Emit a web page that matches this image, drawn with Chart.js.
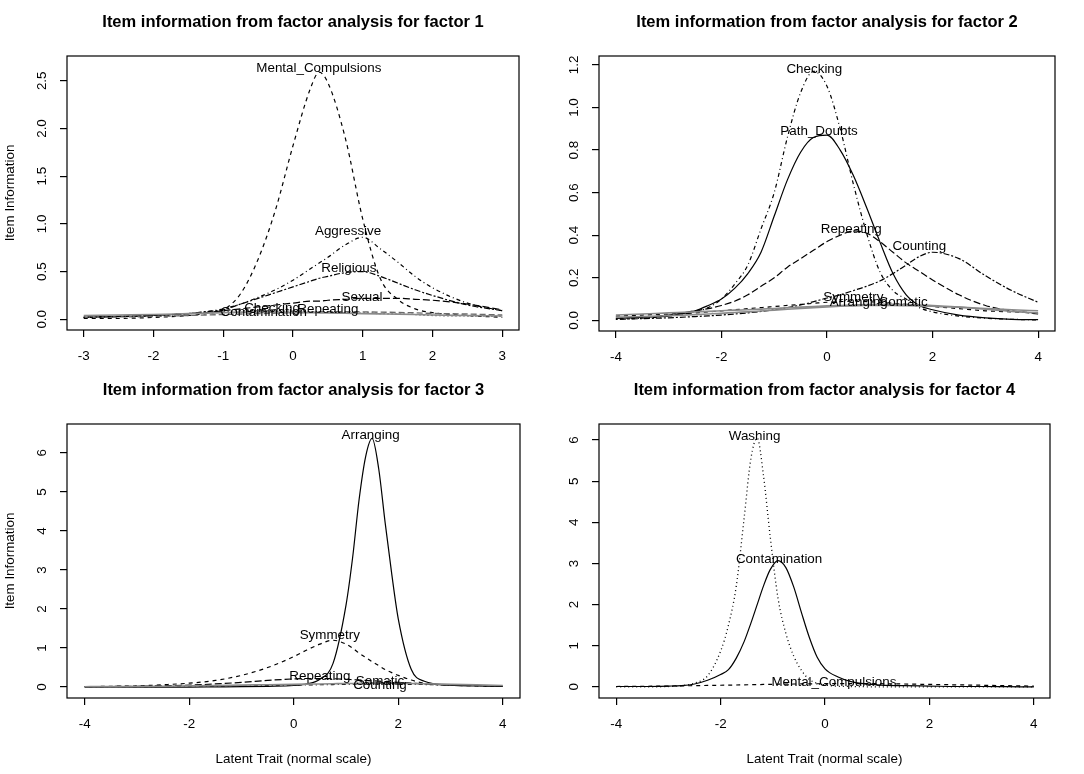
<!DOCTYPE html>
<html>
<head>
<meta charset="utf-8">
<script src="https://cdn.jsdelivr.net/npm/chart.js@4.4.1/dist/chart.umd.min.js"></script>
<style>
    body { margin: 0; background: #fff; width: 1084px; height: 774px; position: relative; overflow: hidden; }
    .panel { position: absolute; }
</style>
</head>
<body>
<div class="panel" style="left:0;top:0"><canvas id="f1" width="542" height="368"></canvas></div>
<div class="panel" style="left:542px;top:0"><canvas id="f2" width="542" height="368"></canvas></div>
<div class="panel" style="left:0;top:368px"><canvas id="f3" width="542" height="406"></canvas></div>
<div class="panel" style="left:542px;top:368px"><canvas id="f4" width="542" height="406"></canvas></div>
<script>
// ---- factor 1 ----
const theta1 = [-3, -2.5, -2, -1.5, -1.25, -1, -0.75, -0.5, -0.25, 0, 0.25, 0.375, 0.5, 0.75, 1, 1.25, 1.5, 1.75, 2, 2.5, 3];
const mental1 = [0.01, 0.01, 0.02, 0.04, 0.06, 0.10, 0.27, 0.63, 1.15, 1.82, 2.42, 2.59, 2.48, 1.9, 1.05, 0.43, 0.21, 0.11, 0.07, 0.04, 0.02];
const aggressive1 = [0.02, 0.03, 0.04, 0.06, 0.08, 0.11, 0.16, 0.23, 0.31, 0.41, 0.53, 0.59, 0.65, 0.78, 0.86, 0.74, 0.6, 0.45, 0.33, 0.17, 0.09];
const religious1 = [0.02, 0.03, 0.04, 0.06, 0.08, 0.10, 0.16, 0.22, 0.28, 0.34, 0.40, 0.43, 0.45, 0.49, 0.50, 0.45, 0.38, 0.31, 0.25, 0.15, 0.09];
const sexual1 = [0.02, 0.03, 0.04, 0.06, 0.07, 0.09, 0.11, 0.13, 0.15, 0.17, 0.19, 0.19, 0.20, 0.21, 0.22, 0.22, 0.22, 0.21, 0.2, 0.16, 0.1];
const contamination1 = [0.04, 0.045, 0.05, 0.06, 0.065, 0.07, 0.075, 0.075, 0.075, 0.07, 0.07, 0.068, 0.066, 0.063, 0.06, 0.057, 0.054, 0.05, 0.045, 0.04, 0.035];
const checking1 = [0.02, 0.03, 0.04, 0.06, 0.07, 0.08, 0.09, 0.09, 0.088, 0.085, 0.08, 0.078, 0.075, 0.07, 0.065, 0.06, 0.055, 0.05, 0.04, 0.035, 0.03];
const repeating1 = [0.02, 0.025, 0.03, 0.04, 0.045, 0.05, 0.055, 0.06, 0.065, 0.07, 0.075, 0.078, 0.08, 0.08, 0.078, 0.075, 0.072, 0.068, 0.062, 0.055, 0.045];
const labelNames1 = ['Mental_Compulsions', 'Aggressive', 'Religious', 'Sexual', 'Contamination', 'Checking', 'Repeating'];
const labelX1 = [0.37, 0.79, 0.8, 0.99, -0.42, -0.3, 0.5];
const labelY1 = [2.63, 0.92, 0.53, 0.23, 0.07, 0.12, 0.11];
const xTicks1 = [-3, -2, -1, 0, 1, 2, 3];
const yTicks1 = [0, 0.5, 1, 1.5, 2, 2.5];
const yTickText1 = ['0.0', '0.5', '1.0', '1.5', '2.0', '2.5'];

// ---- factor 2 ----
const theta2 = [-4, -3.5, -3, -2.5, -2.25, -2, -1.75, -1.5, -1.25, -1, -0.75, -0.5, -0.25, 0, 0.25, 0.5, 0.75, 1, 1.25, 1.5, 1.75, 2, 2.5, 3, 3.5, 4];
const checking2 = [0.005, 0.01, 0.02, 0.04, 0.06, 0.1, 0.17, 0.26, 0.43, 0.6, 0.86, 1.07, 1.17, 1.1, 0.9, 0.64, 0.41, 0.23, 0.14, 0.1, 0.06, 0.04, 0.02, 0.01, 0.005, 0.002];
const pathDoubts2 = [0.01, 0.015, 0.02, 0.045, 0.07, 0.1, 0.15, 0.22, 0.32, 0.49, 0.66, 0.79, 0.86, 0.87, 0.8, 0.68, 0.53, 0.37, 0.22, 0.12, 0.07, 0.05, 0.025, 0.012, 0.005, 0.003];
const repeating2 = [0.01, 0.015, 0.025, 0.045, 0.055, 0.07, 0.09, 0.12, 0.16, 0.2, 0.25, 0.29, 0.33, 0.37, 0.4, 0.42, 0.41, 0.37, 0.32, 0.27, 0.23, 0.19, 0.12, 0.07, 0.045, 0.03];
const counting2 = [0.005, 0.008, 0.012, 0.018, 0.021, 0.025, 0.03, 0.035, 0.042, 0.05, 0.06, 0.072, 0.088, 0.105, 0.12, 0.14, 0.16, 0.185, 0.22, 0.26, 0.3, 0.32, 0.29, 0.21, 0.14, 0.085];
const symmetry2 = [0.02, 0.025, 0.03, 0.035, 0.04, 0.045, 0.05, 0.055, 0.06, 0.065, 0.07, 0.075, 0.08, 0.085, 0.088, 0.09, 0.088, 0.085, 0.08, 0.075, 0.07, 0.065, 0.055, 0.045, 0.04, 0.035];
const arranging2 = [0.015, 0.018, 0.022, 0.027, 0.03, 0.033, 0.037, 0.04, 0.044, 0.048, 0.052, 0.056, 0.06, 0.063, 0.066, 0.068, 0.07, 0.07, 0.07, 0.069, 0.068, 0.066, 0.062, 0.056, 0.05, 0.045];
const somatic2 = [0.025, 0.03, 0.035, 0.04, 0.042, 0.045, 0.048, 0.05, 0.053, 0.056, 0.059, 0.062, 0.065, 0.068, 0.07, 0.072, 0.074, 0.075, 0.075, 0.074, 0.072, 0.07, 0.062, 0.052, 0.042, 0.035];
const labelNames2 = ['Checking', 'Path_Doubts', 'Repeating', 'Counting', 'Symmetry', 'Arranging', 'Somatic'];
const labelX2 = [-0.24, -0.15, 0.46, 1.75, 0.5, 0.6, 1.45];
const labelY2 = [1.18, 0.89, 0.43, 0.35, 0.11, 0.085, 0.085];
const xTicks2 = [-4, -2, 0, 2, 4];
const yTicks2 = [0, 0.2, 0.4, 0.6, 0.8, 1, 1.2];
const yTickText2 = ['0.0', '0.2', '0.4', '0.6', '0.8', '1.0', '1.2'];

// ---- factor 3 ----
const theta3 = [-4, -3.5, -3, -2.5, -2, -1.5, -1, -0.5, 0, 0.25, 0.5, 0.75, 1, 1.125, 1.25, 1.375, 1.5, 1.625, 1.75, 1.875, 2, 2.25, 2.5, 3, 3.5, 4];
const arranging3 = [0, 0, 0, 0, 0, 0.005, 0.01, 0.02, 0.04, 0.08, 0.2, 0.6, 2.1, 3.3, 4.8, 5.9, 6.37, 5.6, 4.2, 2.9, 1.75, 0.45, 0.15, 0.05, 0.03, 0.02];
const symmetry3 = [0.01, 0.02, 0.03, 0.06, 0.1, 0.17, 0.3, 0.5, 0.78, 0.95, 1.1, 1.2, 1.1, 1.0, 0.87, 0.76, 0.65, 0.55, 0.45, 0.37, 0.3, 0.18, 0.1, 0.05, 0.03, 0.02];
const repeating3 = [0.01, 0.015, 0.02, 0.035, 0.05, 0.08, 0.12, 0.17, 0.21, 0.22, 0.22, 0.215, 0.2, 0.19, 0.18, 0.17, 0.16, 0.15, 0.14, 0.13, 0.12, 0.1, 0.08, 0.055, 0.04, 0.025];
const counting3 = [0.005, 0.008, 0.01, 0.015, 0.02, 0.025, 0.03, 0.04, 0.05, 0.055, 0.06, 0.065, 0.07, 0.072, 0.075, 0.078, 0.08, 0.08, 0.08, 0.078, 0.076, 0.07, 0.065, 0.05, 0.04, 0.03];
const somatic3 = [0.01, 0.012, 0.015, 0.02, 0.03, 0.04, 0.05, 0.06, 0.07, 0.075, 0.08, 0.085, 0.09, 0.09, 0.095, 0.1, 0.1, 0.1, 0.1, 0.098, 0.095, 0.09, 0.085, 0.07, 0.055, 0.04];
const labelNames3 = ['Arranging', 'Symmetry', 'Repeating', 'Counting', 'Somatic'];
const labelX3 = [1.47, 0.69, 0.5, 1.65, 1.65];
const labelY3 = [6.45, 1.32, 0.28, 0.05, 0.14];
const xTicks3 = [-4, -2, 0, 2, 4];
const yTicks3 = [0, 1, 2, 3, 4, 5, 6];
const yTickText3 = ['0', '1', '2', '3', '4', '5', '6'];

// ---- factor 4 ----
const theta4 = [-4, -3.5, -3, -2.75, -2.5, -2.25, -2, -1.85, -1.7, -1.55, -1.42, -1.3, -1.18, -1.05, -0.9, -0.75, -0.6, -0.45, -0.3, -0.15, 0, 0.25, 0.5, 1, 1.5, 2, 2.5, 3, 3.5, 4];
const washing4 = [0, 0, 0.01, 0.03, 0.09, 0.27, 0.87, 1.5, 2.45, 4.1, 5.55, 6.05, 5.15, 3.65, 2.15, 1.3, 0.75, 0.4, 0.18, 0.09, 0.045, 0.015, 0.01, 0, 0, 0, 0, 0, 0, 0];
const contamination4 = [0.01, 0.01, 0.02, 0.03, 0.07, 0.16, 0.3, 0.42, 0.7, 1.1, 1.55, 2.0, 2.45, 2.85, 3.07, 2.9, 2.43, 1.8, 1.2, 0.72, 0.44, 0.24, 0.13, 0.05, 0.03, 0.02, 0.01, 0.01, 0.005, 0];
const mental4 = [0.01, 0.015, 0.02, 0.025, 0.03, 0.035, 0.04, 0.043, 0.046, 0.05, 0.053, 0.056, 0.059, 0.062, 0.065, 0.068, 0.07, 0.072, 0.074, 0.076, 0.078, 0.08, 0.08, 0.078, 0.07, 0.06, 0.05, 0.04, 0.03, 0.02];
const labelNames4 = ['Washing', 'Contamination', 'Mental_Compulsions'];
const labelX4 = [-1.35, -0.88, 0.17];
const labelY4 = [6.1, 3.11, 0.1];
const xTicks4 = [-4, -2, 0, 2, 4];
const yTicks4 = [0, 1, 2, 3, 4, 5, 6];
const yTickText4 = ['0', '1', '2', '3', '4', '5', '6'];

const TEXT_FONT = '"Liberation Sans", Arial, sans-serif';

// R style line types
const lineTypes = {
    solid: { dash: [], color: '#000', width: 1.2 },
    dashed: { dash: [4, 4], color: '#000', width: 1.2 },
    dotted: { dash: [1, 3], color: '#000', width: 1.3 },
    dotdash: { dash: [1, 3, 4, 3], color: '#000', width: 1.2 },
    longdash: { dash: [7, 3], color: '#000', width: 1.2 },
    twodash: { dash: [2, 2, 6, 2], color: '#000', width: 1.2 },
    grey: { dash: [], color: '#8a8a8a', width: 1.6 },
    greydash: { dash: [6, 3], color: '#6a6a6a', width: 1.4 }
};

const panels = [
    {
        id: 'f1', title: 'Item information from factor analysis for factor 1',
        area: { left: 67, top: 56, right: 519, bottom: 330 },
        xRange: [-3.24, 3.24], yRange: [-0.112, 2.76],
        theta: theta1, xTicks: xTicks1, yTicks: yTicks1, yTickText: yTickText1,
        labels: labelNames1, labelX: labelX1, labelY: labelY1,
        yTitle: true, xTitle: false,
        series: [
            [contamination1, 'grey'], [checking1, 'dotted'], [repeating1, 'greydash'],
            [religious1, 'twodash'], [aggressive1, 'dotdash'], [sexual1, 'longdash'], [mental1, 'dashed']
        ]
    },
    {
        id: 'f2', title: 'Item information from factor analysis for factor 2',
        area: { left: 57, top: 56, right: 513, bottom: 331 },
        xRange: [-4.32, 4.32], yRange: [-0.05, 1.242],
        theta: theta2, xTicks: xTicks2, yTicks: yTicks2, yTickText: yTickText2,
        labels: labelNames2, labelX: labelX2, labelY: labelY2,
        yTitle: false, xTitle: false,
        series: [
            [arranging2, 'grey'], [somatic2, 'grey'], [symmetry2, 'dashed'],
            [counting2, 'twodash'], [repeating2, 'longdash'], [pathDoubts2, 'solid'], [checking2, 'dotdash']
        ]
    },
    {
        id: 'f3', title: 'Item information from factor analysis for factor 3',
        area: { left: 67, top: 56, right: 520, bottom: 330 },
        xRange: [-4.34, 4.33], yRange: [-0.28, 6.74],
        theta: theta3, xTicks: xTicks3, yTicks: yTicks3, yTickText: yTickText3,
        labels: labelNames3, labelX: labelX3, labelY: labelY3,
        yTitle: true, xTitle: true,
        series: [
            [somatic3, 'grey'], [counting3, 'dotdash'], [repeating3, 'longdash'],
            [symmetry3, 'dashed'], [arranging3, 'solid']
        ]
    },
    {
        id: 'f4', title: 'Item information from factor analysis for factor 4',
        area: { left: 57, top: 56, right: 508, bottom: 330 },
        xRange: [-4.33, 4.31], yRange: [-0.27, 6.39],
        theta: theta4, xTicks: xTicks4, yTicks: yTicks4, yTickText: yTickText4,
        labels: labelNames4, labelX: labelX4, labelY: labelY4,
        yTitle: false, xTitle: true,
        series: [
            [mental4, 'dashed'], [contamination4, 'solid'], [washing4, 'dotted']
        ]
    }
];

// Box, titles, tick labels and item names in the R base graphics look
const rDecor = {
    id: 'rDecor',
    afterDraw(chart, args, opts) {
        const p = opts.panel;
        const ctx = chart.ctx;
        const a = chart.chartArea;
        const xs = chart.scales.x;
        const ys = chart.scales.y;
        ctx.save();
        ctx.strokeStyle = '#000';
        ctx.lineWidth = 1.2;
        ctx.setLineDash([]);
        ctx.strokeRect(a.left, a.top, a.right - a.left, a.bottom - a.top);

        ctx.fillStyle = '#000';
        ctx.textAlign = 'center';
        ctx.textBaseline = 'middle';
        ctx.font = 'bold 16.5px ' + TEXT_FONT;
        ctx.fillText(p.title, (a.left + a.right) / 2, 22);

        ctx.font = '13.4px ' + TEXT_FONT;
        p.xTicks.forEach(v => {
            ctx.fillText(String(v), xs.getPixelForValue(v), a.bottom + 26);
        });
        p.yTicks.forEach((v, i) => {
            ctx.save();
            ctx.translate(a.left - 25, ys.getPixelForValue(v));
            ctx.rotate(-Math.PI / 2);
            ctx.fillText(p.yTickText[i], 0, 0);
            ctx.restore();
        });
        if (p.yTitle) {
            ctx.save();
            ctx.translate(10, (a.top + a.bottom) / 2);
            ctx.rotate(-Math.PI / 2);
            ctx.fillText('Item Information', 0, 0);
            ctx.restore();
        }
        if (p.xTitle) {
            ctx.fillText('Latent Trait (normal scale)', (a.left + a.right) / 2, a.bottom + 61);
        }

        p.labels.forEach((name, i) => {
            ctx.fillText(name, xs.getPixelForValue(p.labelX[i]), ys.getPixelForValue(p.labelY[i]));
        });
        ctx.restore();
    }
};

function buildPanel(p) {
    const canvas = document.getElementById(p.id);
    const W = canvas.width;
    const H = canvas.height;

    const datasets = p.series.map(([values, type]) => {
        const lt = lineTypes[type];
        return {
            data: values.map((v, i) => ({ x: p.theta[i], y: v })),
            borderColor: lt.color,
            borderWidth: lt.width,
            borderDash: lt.dash,
            pointRadius: 0,
            fill: false,
            cubicInterpolationMode: 'monotone'
        };
    });

    new Chart(canvas, {
        type: 'line',
        data: { datasets },
        options: {
            responsive: false,
            animation: false,
            layout: { padding: { left: 0, top: p.area.top, right: W - p.area.right, bottom: 0 } },
            plugins: {
                legend: { display: false },
                tooltip: { enabled: false },
                rDecor: { panel: p }
            },
            scales: {
                x: {
                    type: 'linear',
                    min: p.xRange[0], max: p.xRange[1],
                    afterBuildTicks: s => { s.ticks = p.xTicks.map(v => ({ value: v })); },
                    afterFit: s => { s.height = H - p.area.bottom; },
                    ticks: { display: false },
                    border: { display: false },
                    grid: { drawOnChartArea: false, drawTicks: true, tickLength: 7, color: '#000', lineWidth: 1.2 }
                },
                y: {
                    type: 'linear',
                    min: p.yRange[0], max: p.yRange[1],
                    afterBuildTicks: s => { s.ticks = p.yTicks.map(v => ({ value: v })); },
                    afterFit: s => { s.width = p.area.left; },
                    ticks: { display: false },
                    border: { display: false },
                    grid: { drawOnChartArea: false, drawTicks: true, tickLength: 7, color: '#000', lineWidth: 1.2 }
                }
            }
        },
        plugins: [rDecor]
    });
}

document.addEventListener('DOMContentLoaded', () => {
    panels.forEach(buildPanel);
});
</script>
</body>
</html>
